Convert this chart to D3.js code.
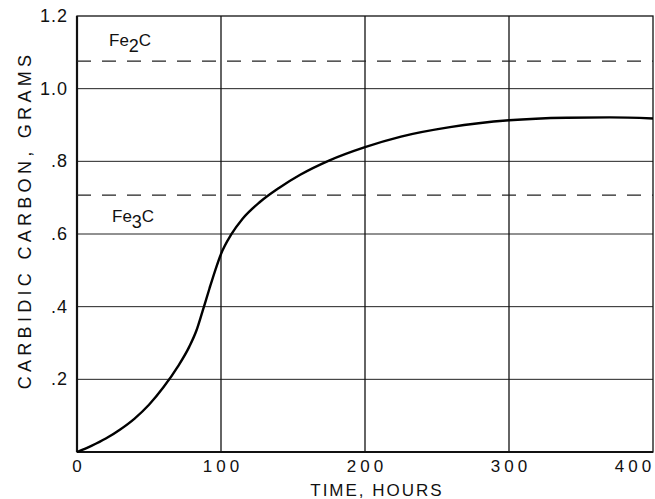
<!DOCTYPE html>
<html>
<head>
<meta charset="utf-8">
<script src="https://cdn.jsdelivr.net/npm/d3@7"></script>
<style>
  body { margin: 0; background: #fff; }
  text { font-family: "Liberation Sans", Arial, sans-serif; fill: #111; }
</style>
</head>
<body>
<script>
// data
const hours = [0, 10, 20, 30, 40, 50, 60, 70, 78, 83, 87, 92, 96, 100, 107, 115, 127, 140, 155, 175, 200, 225, 259, 300, 340, 370, 400];
const carbon = [0, 0.017, 0.037, 0.062, 0.092, 0.13, 0.178, 0.235, 0.29, 0.335, 0.385, 0.45, 0.5, 0.545, 0.598, 0.642, 0.688, 0.726, 0.763, 0.802, 0.839, 0.868, 0.894, 0.913, 0.92, 0.921, 0.918];
const phases = [{ name: "Fe", sub: "2", tail: "C", value: 1.076 }, { name: "Fe", sub: "3", tail: "C", value: 0.707 }];
const xTicks = [0, 100, 200, 300, 400];
const yTicks = [0.2, 0.4, 0.6, 0.8, 1.0, 1.2];
const yLabels = [".2", ".4", ".6", ".8", "1.0", "1.2"];

const W = 655, H = 499;
const m = { left: 77, right: 2, top: 16, bottom: 47 };

const svg = d3.select("body").append("svg")
    .attr("width", W).attr("height", H);

const x = d3.scaleLinear().domain([0, 400]).range([m.left, W - m.right]);
const y = d3.scaleLinear().domain([0, 1.2]).range([H - m.bottom, m.top]);

// grid
svg.append("g").selectAll("line").data(yTicks.slice(0, -1)).join("line")
    .attr("x1", x(0)).attr("x2", x(400))
    .attr("y1", d => y(d)).attr("y2", d => y(d))
    .attr("stroke", "#222").attr("stroke-width", 1);
svg.append("g").selectAll("line").data(xTicks.slice(1, -1)).join("line")
    .attr("y1", y(0)).attr("y2", y(1.2))
    .attr("x1", d => x(d)).attr("x2", d => x(d))
    .attr("stroke", "#111").attr("stroke-width", 1.3);

// frame
svg.append("rect")
    .attr("x", x(0)).attr("y", y(1.2))
    .attr("width", x(400) - x(0)).attr("height", y(0) - y(1.2))
    .attr("fill", "none").attr("stroke", "#111").attr("stroke-width", 1.3);
svg.append("line").attr("x1", x(0)).attr("x2", x(0)).attr("y1", y(0)).attr("y2", y(1.2))
    .attr("stroke", "#111").attr("stroke-width", 2.2);
svg.append("line").attr("x1", x(0)).attr("x2", x(400)).attr("y1", y(0)).attr("y2", y(0))
    .attr("stroke", "#111").attr("stroke-width", 2.2);

// phase reference lines
svg.append("g").selectAll("line").data(phases).join("line")
    .attr("x1", x(0)).attr("x2", x(400))
    .attr("y1", d => y(d.value)).attr("y2", d => y(d.value))
    .attr("stroke", "#222").attr("stroke-width", 1.2)
    .attr("stroke-dasharray", "14,11");

const labelPos = [{ dx: 32, dy: -15 }, { dx: 35, dy: 27 }];
phases.forEach((p, i) => {
  const t = svg.append("text")
      .attr("x", x(0) + labelPos[i].dx).attr("y", y(p.value) + labelPos[i].dy)
      .attr("font-size", 17);
  t.append("tspan").text(p.name);
  t.append("tspan").attr("dy", 6).attr("font-size", 18).text(p.sub);
  t.append("tspan").attr("dy", -6).text(p.tail);
});

// curve
const line = d3.line().x((d, i) => x(hours[i])).y(d => y(d)).curve(d3.curveMonotoneX);
svg.append("path").datum(carbon)
    .attr("d", line)
    .attr("fill", "none").attr("stroke", "#000").attr("stroke-width", 2.4);

// tick labels
svg.append("g").selectAll("text").data(xTicks).join("text")
    .attr("x", d => x(d) + (d === 400 ? -20 : 0) + (d === 0 ? 0 : 2)).attr("y", y(0) + 20)
    .attr("text-anchor", "middle").attr("font-size", 17)
    .attr("letter-spacing", d => d === 0 ? 0 : 4)
    .text(d => d);
svg.append("g").selectAll("text").data(yTicks).join("text")
    .attr("x", x(0) - 9).attr("y", d => y(d) + 6)
    .attr("text-anchor", "end").attr("font-size", 18)
    .attr("letter-spacing", 1)
    .text((d, i) => yLabels[i]);

// axis titles
svg.append("text")
    .attr("x", 377).attr("y", H - 3)
    .attr("text-anchor", "middle").attr("font-size", 17)
    .attr("letter-spacing", 2)
    .text("TIME, HOURS");
svg.append("text")
    .attr("transform", `translate(31,220) rotate(-90)`)
    .attr("text-anchor", "middle").attr("font-size", 18)
    .attr("letter-spacing", 4.3)
    .text("CARBIDIC CARBON, GRAMS");
</script>
</body>
</html>
